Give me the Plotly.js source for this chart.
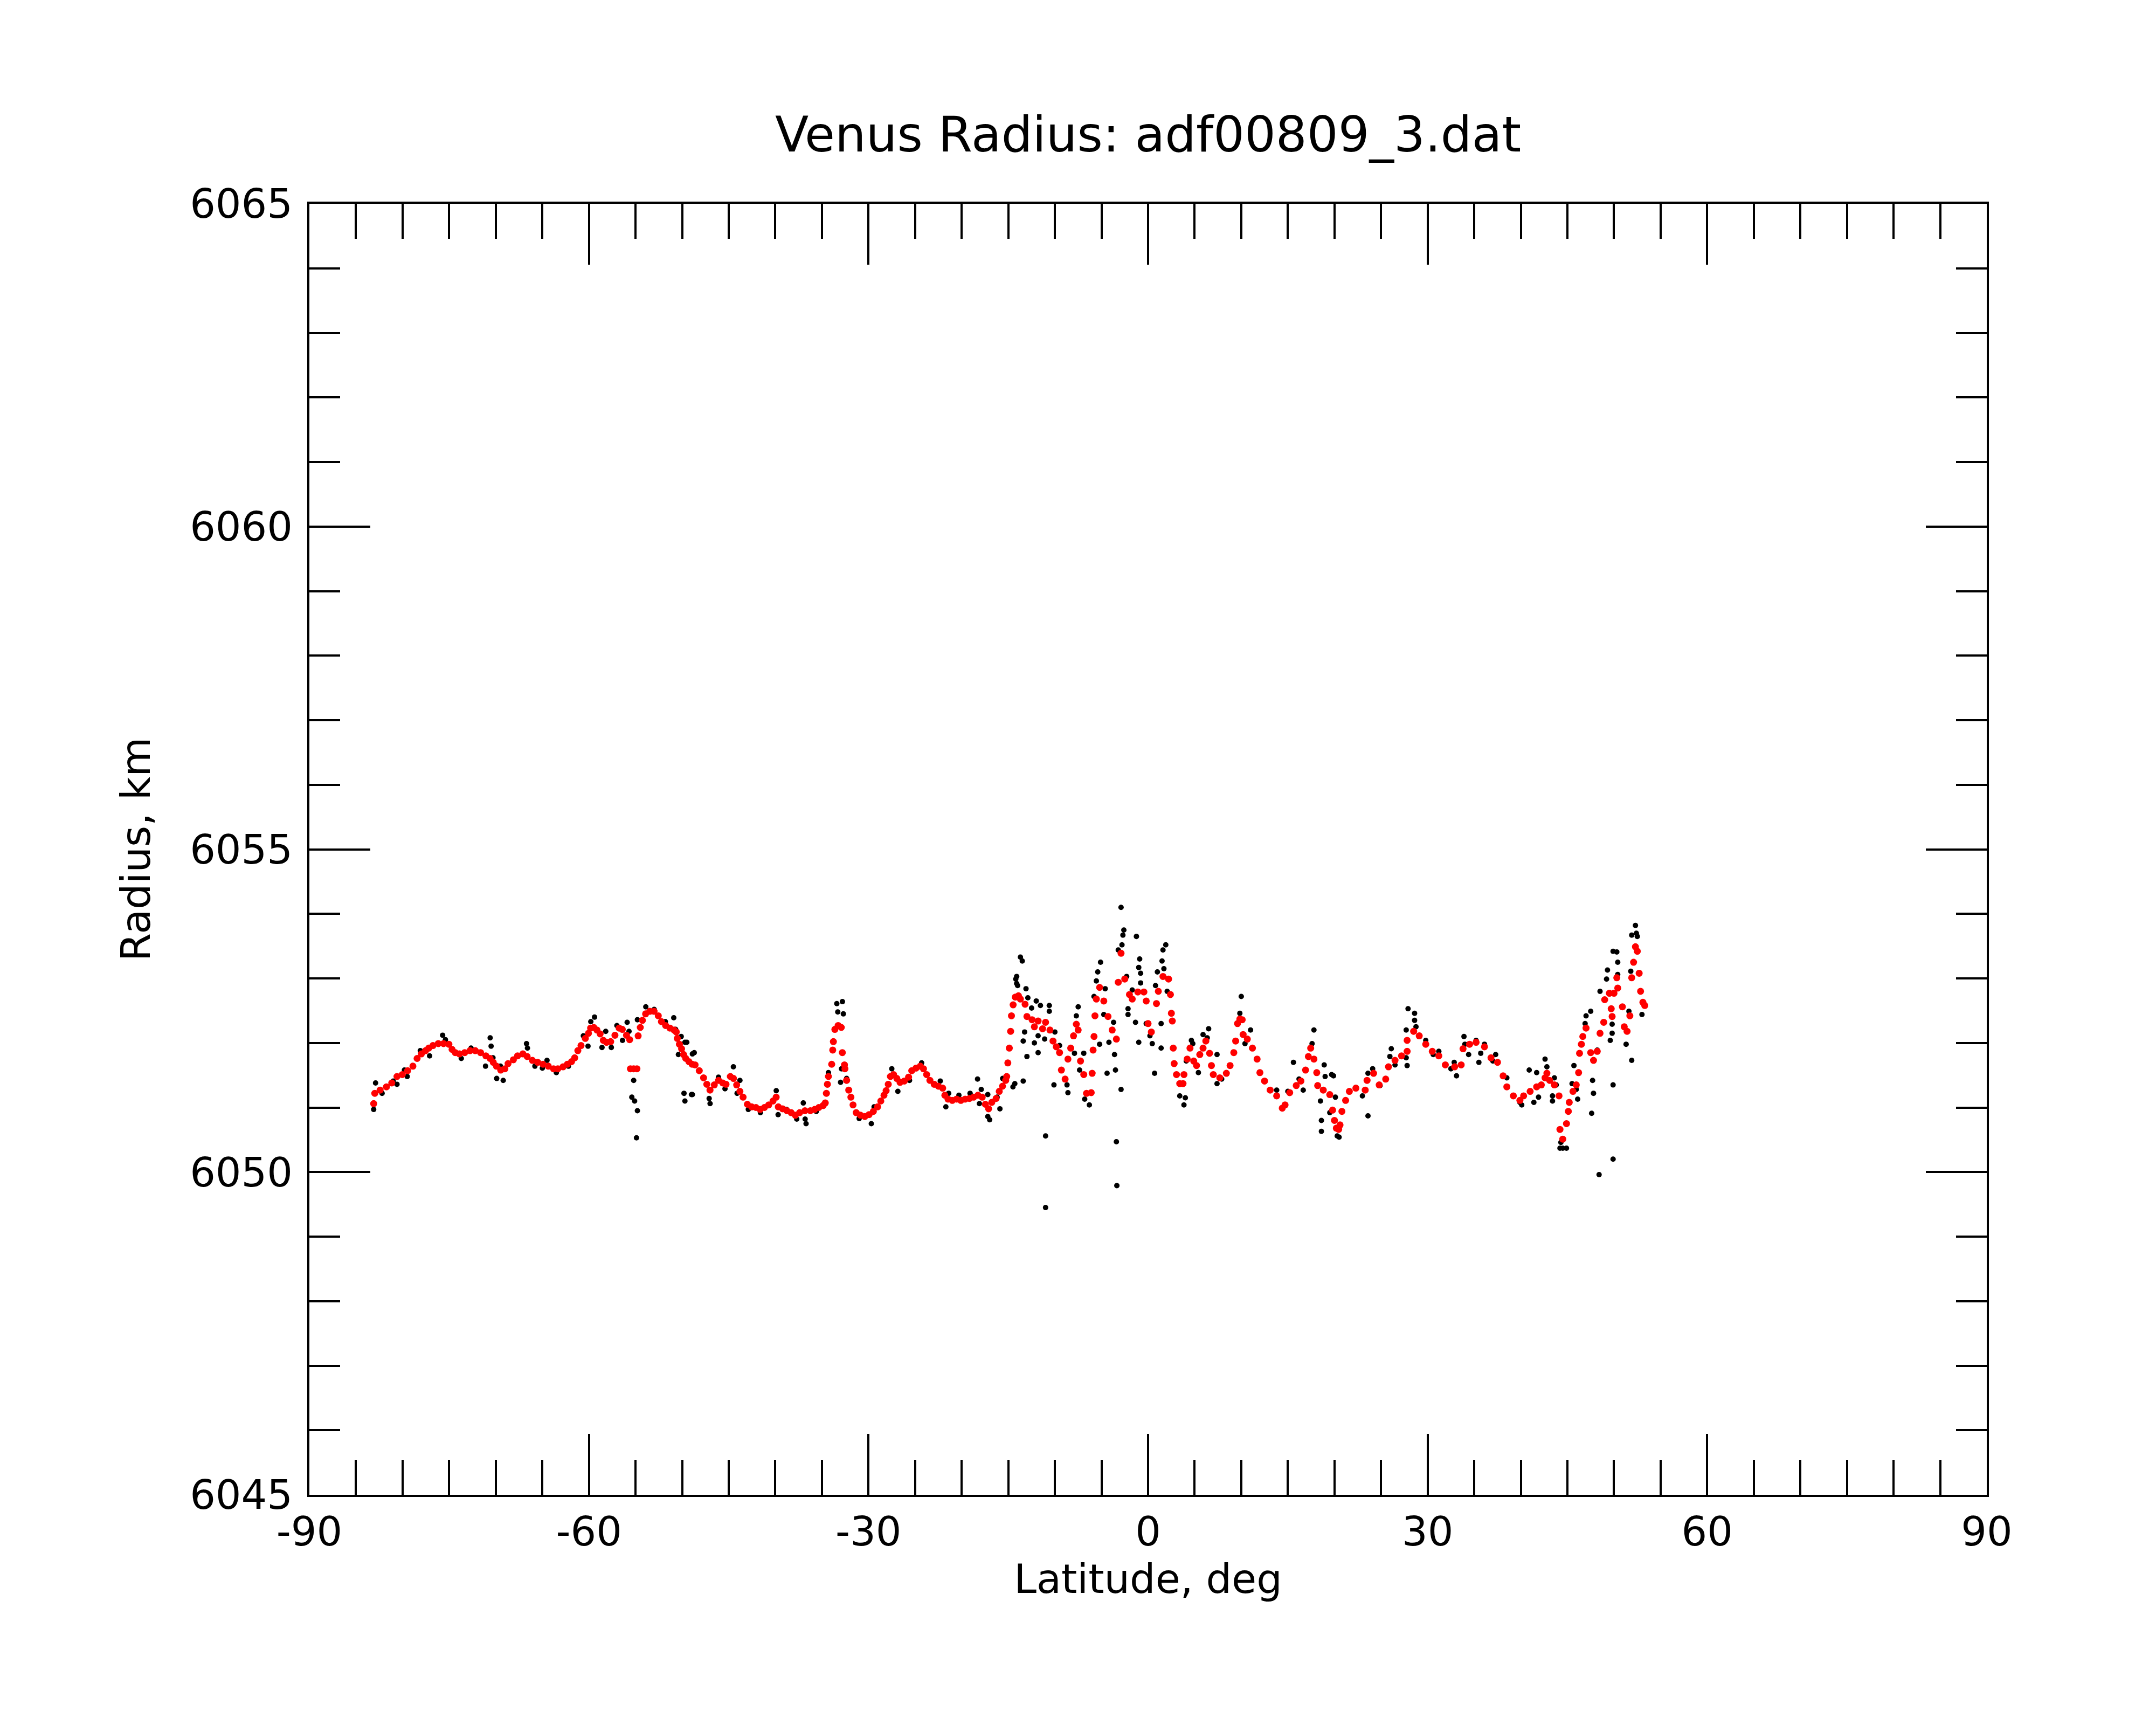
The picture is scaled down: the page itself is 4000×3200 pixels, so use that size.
<!DOCTYPE html>
<html>
<head>
<meta charset="utf-8">
<script src="https://cdn.plot.ly/plotly-3.0.1.min.js"></script>
<style>
  html, body { margin: 0; padding: 0; background: #fff; }
  #chart { width: 4000px; height: 3200px; }
</style>
</head>
<body>
<div id="chart"></div>
<script>
// smoothed radius profile (red)
const smoothLat = [
  -83.1, -82.98, -82.41, -81.73, -81.16, -80.60, -80.03, -79.46, -78.89, -78.44,
  -77.98, -77.53, -77.19, -76.74, -76.17, -75.60, -75.03, -74.69, -74.35, -73.90,
  -73.33, -72.76, -72.20, -71.63, -71.06, -70.61, -70.27, -69.93, -69.47, -69.02,
  -68.68, -68.11, -67.66, -67.09, -66.63, -66.07, -65.50, -64.93, -64.36, -63.80,
  -63.34, -62.78, -62.32, -61.87, -61.53, -61.19, -60.85, -60.39, -60.05, -59.82,
  -59.48, -59.14, -58.80, -58.46, -58.12, -57.67, -57.21, -56.76, -56.42, -55.97,
  -55.63, -55.55, -55.2, -54.85, -54.72, -54.49, -54.26, -53.92, -53.47, -53.01,
  -52.56, -52.22, -51.77, -51.31, -50.86, -50.63, -50.52, -50.29, -50.06, -49.84,
  -49.61, -49.27, -48.93, -48.61, -48.16, -47.70, -47.35, -47.01, -46.55, -46.09,
  -45.64, -45.29, -44.83, -44.49, -44.15, -43.80, -43.46, -43.00, -42.54, -42.08,
  -41.63, -41.17, -40.71, -40.25, -39.91, -39.68, -39.22, -38.76, -38.30, -37.85,
  -37.39, -36.82, -36.24, -35.78, -35.33, -34.87, -34.64, -34.52, -34.41, -34.30,
  -33.95, -33.84, -33.77, -33.61, -33.26, -32.92, -32.81, -32.58, -32.53, -32.35,
  -32.12, -31.89, -31.66, -31.32, -30.86, -30.40, -29.94, -29.48, -29.03, -28.68,
  -28.34, -28.11, -27.88, -27.65, -27.31, -26.96, -26.62, -26.16, -25.70, -25.36,
  -24.90, -24.44, -24.10, -23.76, -23.41, -22.95, -22.50, -22.04, -21.81, -21.47,
  -21.01, -20.55, -20.09, -19.63, -19.17, -18.72, -18.26, -17.80, -17.46, -17.11,
  -16.77, -16.31, -15.97, -15.62, -15.28, -15.17, -15.05, -14.89, -14.75, -14.66,
  -14.48, -14.25, -13.91, -13.7, -13.2, -13.0, -12.45, -12.2, -11.8, -11.32,
  -11.0, -10.53, -10.2, -9.85, -9.5, -9.3, -8.9, -8.6, -8.3, -8.0,
  -7.7, -7.5, -7.25, -6.9, -6.6, -6.1, -6.0, -5.9, -5.8, -5.7,
  -5.55, -5.2, -4.75, -4.3, -3.85, -3.4, -3.2, -2.9, -2.5, -2.0,
  -1.7, -1.1, -0.45, -0.2, 0.0, 0.35, 0.9, 1.1, 1.6, 2.2,
  2.4, 2.5, 2.6, 2.7, 2.8, 3.05, 3.4, 3.75, 3.85, 4.2,
  4.5, 4.9, 5.2, 5.55, 5.9, 6.2, 6.6, 6.8, 7.0, 7.7,
  8.4, 8.8, 9.2, 9.4, 9.6, 9.85, 10.1, 10.2, 10.65, 11.2,
  11.7, 12.0, 12.5, 13.1, 13.8, 14.4, 14.7, 15.2, 15.9, 16.4,
  16.9, 17.2, 17.45, 17.8, 18.1, 18.2, 18.8, 19.5, 19.8, 20.0,
  20.2, 20.45, 20.6, 20.8, 21.2, 21.6, 22.3, 23.3, 23.5, 24.2,
  24.8, 25.5, 25.8, 26.5, 27.2, 27.8, 27.8, 28.5, 29.1, 29.8,
  30.5, 31.2, 31.9, 32.9, 33.6, 33.8, 34.5, 35.2, 36.1, 36.8,
  37.5, 38.1, 38.5, 39.2, 39.9, 40.3, 41.0, 41.7, 42.2, 42.6,
  42.8, 43.1, 43.6, 44.1, 44.2, 44.5, 44.9, 45.1, 45.2, 45.6,
  45.95, 46.2, 46.3, 46.5, 46.65, 47.0, 47.5, 47.8, 48.2, 48.5,
  48.9, 49.0, 49.5, 49.7, 49.8, 50.0, 50.3, 50.4, 50.9, 51.1,
  51.4, 51.7, 51.9, 52.1, 52.3, 52.5, 52.7, 52.85, 53.1, 53.3
];
const smoothRadius = [
  6051.06, 6051.22, 6051.27, 6051.32, 6051.38, 6051.48, 6051.51, 6051.57, 6051.64, 6051.76,
  6051.83, 6051.88, 6051.92, 6051.96, 6051.99, 6051.99, 6051.98, 6051.90, 6051.85, 6051.83,
  6051.85, 6051.88, 6051.88, 6051.85, 6051.80, 6051.76, 6051.70, 6051.64, 6051.58, 6051.60,
  6051.68, 6051.74, 6051.80, 6051.83, 6051.79, 6051.73, 6051.70, 6051.67, 6051.64, 6051.60,
  6051.60, 6051.63, 6051.67, 6051.71, 6051.77, 6051.88, 6051.96, 6052.07, 6052.15, 6052.23,
  6052.24, 6052.20, 6052.14, 6052.04, 6052.01, 6052.02, 6052.12, 6052.23, 6052.21, 6052.12,
  6052.05, 6051.60, 6051.60, 6051.60, 6052.11, 6052.24, 6052.35, 6052.45, 6052.49, 6052.49,
  6052.42, 6052.33, 6052.27, 6052.23, 6052.20, 6052.17, 6052.07, 6051.98, 6051.91, 6051.82,
  6051.76, 6051.71, 6051.67, 6051.66, 6051.57, 6051.46, 6051.36, 6051.27, 6051.35, 6051.42,
  6051.38, 6051.36, 6051.48, 6051.45, 6051.35, 6051.25, 6051.16, 6051.05, 6051.01, 6051.00,
  6050.97, 6051.00, 6051.04, 6051.10, 6051.16, 6051.01, 6050.98, 6050.95, 6050.92, 6050.88,
  6050.92, 6050.95, 6050.95, 6050.97, 6051.00, 6051.03, 6051.07, 6051.22, 6051.36, 6051.48,
  6051.67, 6051.89, 6052.02, 6052.21, 6052.27, 6052.24, 6051.85, 6051.66, 6051.60, 6051.42,
  6051.27, 6051.16, 6051.04, 6050.92, 6050.88, 6050.86, 6050.89, 6050.94, 6051.01, 6051.10,
  6051.19, 6051.26, 6051.36, 6051.48, 6051.51, 6051.45, 6051.39, 6051.41, 6051.47, 6051.57,
  6051.61, 6051.64, 6051.60, 6051.51, 6051.42, 6051.36, 6051.33, 6051.30, 6051.19, 6051.13,
  6051.11, 6051.13, 6051.11, 6051.13, 6051.14, 6051.16, 6051.19, 6051.16, 6051.05, 6050.98,
  6051.08, 6051.14, 6051.25, 6051.33, 6051.42, 6051.48, 6051.69, 6051.92, 6052.18, 6052.42,
  6052.59, 6052.71, 6052.73, 6052.68, 6052.60, 6052.41, 6052.36, 6052.25, 6052.34, 6052.22,
  6052.32, 6052.20, 6052.03, 6051.94, 6051.85, 6051.58, 6051.44, 6051.75, 6051.92, 6052.11,
  6052.29, 6052.20, 6051.72, 6051.51, 6051.22, 6051.23, 6051.53, 6051.89, 6052.10, 6052.42,
  6052.68, 6052.86, 6052.65, 6052.41, 6052.20, 6052.06, 6052.94, 6053.39, 6052.99, 6052.75,
  6052.68, 6052.79, 6052.79, 6052.65, 6052.30, 6052.17, 6052.61, 6052.80, 6053.03, 6052.99,
  6052.75, 6052.46, 6052.34, 6051.92, 6051.68, 6051.51, 6051.37, 6051.37, 6051.51, 6051.75,
  6051.92, 6051.72, 6051.65, 6051.82, 6051.92, 6052.03, 6051.84, 6051.65, 6051.51, 6051.46,
  6051.53, 6051.65, 6051.85, 6052.03, 6052.30, 6052.37, 6052.36, 6052.13, 6052.06, 6051.92,
  6051.75, 6051.54, 6051.41, 6051.27, 6051.18, 6050.99, 6051.04, 6051.23, 6051.34, 6051.41,
  6051.58, 6051.79, 6051.92, 6051.75, 6051.54, 6051.34, 6051.27, 6051.20, 6050.96, 6050.80,
  6050.68, 6050.66, 6050.73, 6050.94, 6051.11, 6051.25, 6051.30, 6051.27, 6051.42, 6051.53,
  6051.35, 6051.44, 6051.63, 6051.73, 6051.80, 6051.87, 6052.04, 6052.18, 6052.11, 6051.98,
  6051.87, 6051.80, 6051.66, 6051.63, 6051.66, 6051.91, 6051.98, 6052.01, 6051.94, 6051.77,
  6051.70, 6051.49, 6051.32, 6051.18, 6051.11, 6051.18, 6051.25, 6051.32, 6051.35, 6051.46,
  6051.53, 6051.42, 6051.35, 6051.18, 6050.66, 6050.51, 6050.75, 6050.94, 6051.08, 6051.25,
  6051.35, 6051.54, 6051.84, 6051.98, 6052.10, 6052.23, 6051.85, 6051.73, 6051.87, 6052.15,
  6052.32, 6052.67, 6052.77, 6052.53, 6052.41, 6052.77, 6053.01, 6052.85, 6052.56, 6052.25,
  6052.18, 6052.42, 6053.01, 6053.25, 6053.49, 6053.42, 6053.08, 6052.80, 6052.63, 6052.58
];

// raw radius samples (black)
const rawLat = [
  -83.1, -82.9, -82.2, -81.0, -80.6, -79.8, -79.5, -78.1, -77.1, -75.7,
  -75.4, -73.7, -72.65, -70.6, -70.5, -70.3, -71.1, -69.9, -69.2, -69.5,
  -66.7, -66.6, -65.8, -65.0, -64.5, -63.5, -62.2, -60.6, -60.1, -59.8,
  -59.4, -58.6, -58.2, -57.6, -57.0, -56.4, -55.9, -55.7, -54.8, -55.2,
  -55.4, -55.1, -54.8, -54.9, -53.9, -53.0, -51.8, -50.9, -50.7, -50.1,
  -49.7, -50.4, -48.9, -49.8, -48.9, -49.7, -49.5, -48.7, -49.0, -47.0,
  -47.1, -46.1, -45.4, -44.5, -43.8, -44.1, -42.9, -41.6, -39.9, -39.7,
  -38.8, -37.0, -37.7, -36.7, -36.8, -35.6, -34.3, -33.0, -33.4, -32.8,
  -33.3, -32.7, -32.9, -32.35, -31.0, -29.7, -29.4, -27.5, -26.85, -25.6,
  -24.3, -22.3, -21.7, -21.4, -20.3, -19.1, -18.3, -17.9, -18.1, -17.2,
  -17.0, -17.2, -15.9, -16.2, -15.6, -14.5, -14.1, -14.1, -13.7, -14.5,
  -13.5, -14.2, -14.0, -13.1, -12.9, -12.0, -11.55, -12.5, -10.6, -10.6,
  -13.25, -13.4, -13.0, -11.8, -12.2, -11.8, -11.1, -14.3, -13.4, -10.0,
  -9.5, -10.1, -8.6, -8.7, -11.0, -11.0, -7.5, -7.7, -7.9, -6.9,
  -7.35, -6.8, -6.3, -5.1, -5.4, -5.55, -4.6, -4.75, -5.2, -5.8,
  -3.7, -4.2, -3.6, -3.5, -4.4, -2.9, -3.4, -3.35, -2.9, -2.6,
  -2.7, -2.8, -3.2, -2.3, -1.25, -0.9, -1.0, -0.8, -0.8, -1.7,
  -2.15, -2.15, -1.35, -1.0, -0.2, 0.2, 0.45, 0.7, 1.4, 1.4,
  0.8, 1.0, 1.5, 1.6, 1.9, 1.7, 2.05, 3.4, 3.85, 4.0,
  4.65, 4.8, 4.1, 5.4, 5.9, 6.5, 6.35, 7.4, 7.4, 7.9,
  9.85, 10.0, 11.0, 10.4, 13.8, 15.0, 15.6, 16.65, 16.2, 17.8,
  17.6, 18.9, 19.0, 19.7, 18.5, 18.6, 18.6, 19.5, 20.3, 19.9,
  20.1, 20.5, 23.6, 23.0, 24.1, 23.6, 24.9, 26.1, 25.95, 26.5,
  27.7, 27.8, 27.7, 27.9, 28.6, 28.6, 28.75, 29.8, 30.6, 31.2,
  32.5, 32.85, 33.1, 33.9, 34.0, 34.4, 35.2, 35.5, 35.7, 36.1,
  37.0, 37.3, 38.5, 39.9, 40.1, 40.9, 41.4, 41.7, 41.9, 42.6,
  42.8, 43.4, 43.6, 43.4, 43.8, 44.3, 44.5, 44.9, 44.2, 45.7,
  45.5, 46.1, 45.95, 46.9, 47.0, 47.5, 47.7, 47.8, 47.6, 48.4,
  48.2, 48.5, 49.2, 49.3, 49.6, 49.8, 49.8, 49.9, 50.3, 50.4,
  50.4, 49.9, 49.9, 51.3, 51.9, 51.6, 51.9, 52.4, 52.3, 51.8,
  53.0, 52.5
];
const rawRadius = [
  6050.97, 6051.38, 6051.22, 6051.41, 6051.36, 6051.58, 6051.48, 6051.88, 6051.80, 6052.12,
  6052.05, 6051.76, 6051.92, 6052.08, 6051.95, 6051.77, 6051.64, 6051.45, 6051.42, 6051.64,
  6051.99, 6051.92, 6051.64, 6051.61, 6051.73, 6051.54, 6051.64, 6052.11, 6051.95, 6052.33,
  6052.40, 6051.93, 6052.18, 6051.93, 6052.27, 6052.04, 6052.32, 6052.18, 6052.36, 6051.42,
  6051.16, 6051.10, 6050.95, 6050.53, 6052.56, 6052.52, 6052.33, 6052.39, 6052.21, 6052.10,
  6052.01, 6051.82, 6051.83, 6051.22, 6051.20, 6051.10, 6052.01, 6051.85, 6051.20, 6051.06,
  6051.14, 6051.47, 6051.29, 6051.63, 6051.42, 6051.22, 6050.97, 6050.92, 6051.26, 6050.89,
  6050.97, 6051.07, 6050.82, 6050.75, 6050.82, 6050.94, 6051.54, 6051.39, 6052.61, 6052.64,
  6052.48, 6052.45, 6051.60, 6051.45, 6050.83, 6050.75, 6051.01, 6051.60, 6051.25, 6051.42,
  6051.69, 6051.41, 6051.01, 6051.22, 6051.19, 6051.22, 6051.44, 6051.28, 6051.06, 6051.20,
  6050.81, 6050.86, 6050.98, 6051.16, 6051.45, 6051.32, 6053.03, 6052.92, 6053.33, 6052.59,
  6053.27, 6052.99, 6052.89, 6052.84, 6052.70, 6052.65, 6052.58, 6052.54, 6052.58, 6052.49,
  6052.17, 6052.03, 6051.79, 6051.85, 6052.00, 6052.11, 6052.06, 6051.37, 6051.41, 6052.17,
  6051.96, 6051.35, 6051.23, 6051.35, 6050.56, 6049.45, 6052.56, 6052.42, 6051.84, 6051.84,
  6051.58, 6051.13, 6051.04, 6053.25, 6053.10, 6052.96, 6052.84, 6052.44, 6051.98, 6052.72,
  6052.32, 6052.01, 6051.82, 6051.58, 6051.53, 6051.28, 6050.47, 6049.79, 6054.10, 6053.75,
  6053.67, 6053.52, 6053.44, 6053.03, 6053.65, 6053.30, 6053.17, 6053.08, 6052.93, 6052.82,
  6052.53, 6052.44, 6052.32, 6052.01, 6052.30, 6052.11, 6051.99, 6051.53, 6051.92, 6052.30,
  6052.89, 6053.10, 6053.27, 6053.44, 6053.52, 6053.15, 6052.80, 6051.18, 6051.04, 6051.15,
  6052.04, 6051.99, 6051.72, 6051.54, 6052.13, 6052.22, 6052.08, 6051.82, 6051.37, 6051.44,
  6052.46, 6052.72, 6052.20, 6051.99, 6051.27, 6051.25, 6051.70, 6051.27, 6051.44, 6052.20,
  6051.99, 6051.66, 6051.48, 6051.51, 6051.10, 6050.80, 6050.63, 6050.92, 6050.56, 6051.49,
  6051.16, 6050.54, 6050.87, 6051.18, 6051.60, 6051.53, 6051.34, 6051.91, 6051.79, 6051.66,
  6051.77, 6051.65, 6052.20, 6052.53, 6052.46, 6052.35, 6052.25, 6052.04, 6051.82, 6051.87,
  6051.60, 6051.70, 6051.49, 6052.10, 6051.98, 6051.82, 6052.04, 6051.70, 6051.84, 6051.98,
  6051.72, 6051.82, 6051.46, 6051.08, 6051.04, 6051.58, 6051.08, 6051.54, 6051.16, 6051.75,
  6051.63, 6051.18, 6051.46, 6051.10, 6051.35, 6050.46, 6050.37, 6050.37, 6050.37, 6051.65,
  6051.37, 6051.13, 6051.28, 6052.30, 6052.42, 6052.49, 6051.42, 6051.22, 6050.91, 6049.96,
  6051.89, 6052.80, 6052.99, 6053.13, 6052.04, 6052.15, 6052.29, 6053.42, 6053.41, 6053.25,
  6053.06, 6051.35, 6050.20, 6051.98, 6051.73, 6052.49, 6053.67, 6053.70, 6053.82, 6053.11,
  6052.44, 6053.65
];

const xTicks = [-90, -60, -30, 0, 30, 60, 90];
const yTicks = [6045, 6050, 6055, 6060, 6065];

const font = "DejaVu Sans, Liberation Sans, sans-serif";

const traceRaw = {
  x: rawLat,
  y: rawRadius,
  type: "scatter",
  mode: "markers",
  marker: { color: "black", size: 10, line: { width: 0 } },
  showlegend: false,
  hoverinfo: "skip"
};

const traceSmooth = {
  x: smoothLat,
  y: smoothRadius,
  type: "scatter",
  mode: "markers",
  marker: { color: "red", size: 13, line: { width: 0 } },
  showlegend: false,
  hoverinfo: "skip"
};

const axisCommon = {
  showline: true,
  linecolor: "black",
  linewidth: 4,
  mirror: "allticks",
  ticks: "inside",
  tickcolor: "black",
  tickwidth: 4,
  ticklen: 113,
  showgrid: false,
  zeroline: false,
  tickfont: { family: font, size: 75, color: "black" }
};

const layout = {
  width: 4000,
  height: 3200,
  paper_bgcolor: "white",
  plot_bgcolor: "white",
  margin: { l: 574, r: 314, t: 378, b: 427, pad: 0 },
  title: {
    text: "Venus Radius: adf00809_3.dat",
    font: { family: font, size: 91, color: "black" },
    x: 0.5,
    xref: "paper",
    y: 0.922,
    yref: "container",
    yanchor: "middle"
  },
  xaxis: Object.assign({}, axisCommon, {
    range: [-90, 90],
    tickmode: "array",
    tickvals: xTicks,
    ticktext: xTicks.map(String),
    minor: { dtick: 5, ticks: "inside", ticklen: 65, tickwidth: 4, tickcolor: "black", showgrid: false },
    title: { text: "Latitude, deg", font: { family: font, size: 75, color: "black" }, standoff: 0 }
  }),
  yaxis: Object.assign({}, axisCommon, {
    range: [6045, 6065],
    tickmode: "array",
    tickvals: yTicks,
    ticktext: yTicks.map(String),
    ticklabelstandoff: 12,
    minor: { dtick: 1, ticks: "inside", ticklen: 57, tickwidth: 4, tickcolor: "black", showgrid: false },
    title: { text: "Radius, km", font: { family: font, size: 75, color: "black" }, standoff: 50 }
  })
};

Plotly.newPlot("chart", [traceRaw, traceSmooth], layout, { staticPlot: true, displayModeBar: false });
</script>
</body>
</html>
